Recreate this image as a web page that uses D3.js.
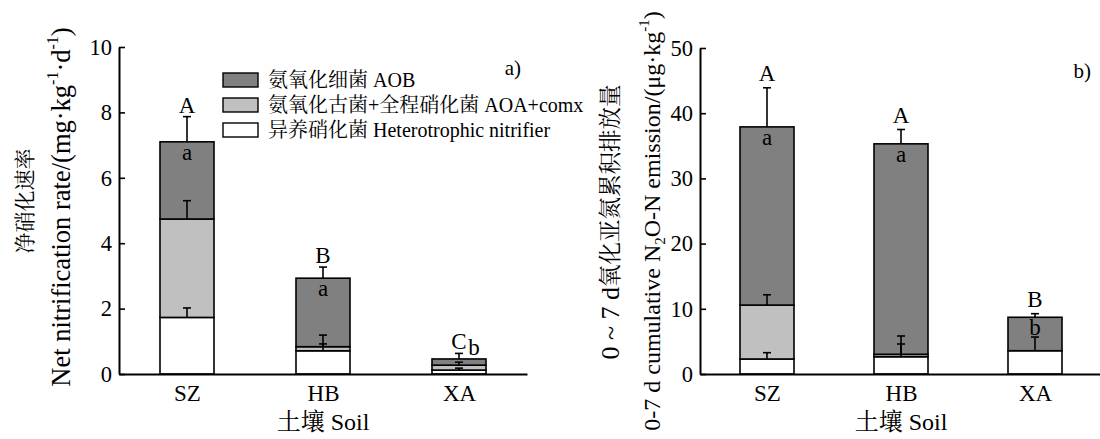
<!DOCTYPE html>
<html><head><meta charset="utf-8">
<script src="https://cdn.jsdelivr.net/npm/d3@7"></script>
<style>
body{margin:0;background:#fff;}
</style></head>
<body><svg id="c" width="1100" height="439"></svg>
<script>
// ---------- data ----------
const soils = ["SZ", "HB", "XA"];
const seriesNames = ["异养硝化菌 Heterotrophic nitrifier", "氨氧化古菌+全程硝化菌 AOA+comx", "氨氧化细菌 AOB"];
const seriesColors = ["#ffffff", "#c0c0c0", "#808080"];

// Panel a: net nitrification rate (mg·kg-1·d-1)
const aHet = [1.73, 0.71, 0.12];
const aAOA = [3.01, 0.125, 0.15];
const aAOB = [2.36, 2.095, 0.19];
const aHetErr = [0.29, 0.21, 0.06];
const aAOAErr = [0.56, 0.355, 0.09];
const aAOBErr = [0.77, 0.34, 0.17];
const aUpper = ["A", "B", "C"];
const aLower = ["a", "a", "b"];
const aTicks = [0, 2, 4, 6, 8, 10];

// Panel b: 0-7 d cumulative N2O-N emission (μg·kg-1)
const bHet = [2.3, 2.65, 3.57];
const bAOA = [8.27, 0.37, 0.0];
const bAOB = [27.33, 32.28, 5.13];
const bHetErr = [0.97, 1.95, 2.1];
const bAOAErr = [1.58, 2.81, 0];
const bAOBErr = [6.0, 2.2, 0.55];
const bUpper = ["A", "A", "B"];
const bLower = ["a", "a", "b"];
const bTicks = [0, 10, 20, 30, 40, 50];

const FONT = "'Liberation Serif', 'Noto Serif CJK SC'";
const svg = d3.select("#c");

function panel(opt) {
  const g = svg.append("g");
  const x = d3.scalePoint().domain(soils).range([opt.x0, opt.x1]).padding(0.5);
  const y = d3.scaleLinear().domain([0, opt.ymax]).range([374, opt.ytop]);
  const bw = 54;
  const series = [opt.het, opt.aoa, opt.aob];
  const errs = [opt.hetErr, opt.aoaErr, opt.aobErr];

  soils.forEach((s, i) => {
    let cum = 0;
    const tops = [];
    series.forEach((arr, k) => {
      const v = arr[i];
      g.append("rect")
        .attr("x", x(s) - bw / 2).attr("width", bw)
        .attr("y", y(cum + v)).attr("height", y(cum) - y(cum + v))
        .attr("fill", seriesColors[k]).attr("stroke", "#000").attr("stroke-width", 1.6);
      cum += v;
      tops.push(cum);
    });
    series.forEach((arr, k) => {
      const e = errs[k][i];
      if (e <= 0) return;
      const t = tops[k];
      g.append("line").attr("x1", x(s)).attr("x2", x(s))
        .attr("y1", y(t)).attr("y2", y(t + e)).attr("stroke", "#000").attr("stroke-width", 1.6);
      g.append("line").attr("x1", x(s) - 4).attr("x2", x(s) + 4)
        .attr("y1", y(t + e)).attr("y2", y(t + e)).attr("stroke", "#000").attr("stroke-width", 1.6);
    });
    const errTop = tops[2] + errs[2][i];
    g.append("text").attr("x", x(s)).attr("y", y(errTop) - opt.upOff)
      .attr("text-anchor", "middle").attr("font-size", 23).text(opt.upper[i]);
    const segH = y(tops[1]) - y(tops[2]);
    if (segH > 25) {
      g.append("text").attr("x", x(s)).attr("y", y(tops[2]) + 18)
        .attr("text-anchor", "middle").attr("font-size", 23).text(opt.lower[i]);
    } else {
      g.append("text").attr("x", x(s) + 15).attr("y", y(tops[2]) - 4)
        .attr("text-anchor", "middle").attr("font-size", 23).text(opt.lower[i]);
    }
  });

  const ya = d3.axisLeft(y).tickValues(opt.ticks).tickSizeInner(-6).tickSizeOuter(0).tickPadding(7);
  const yg = g.append("g").attr("transform", `translate(${opt.x0},0)`).call(ya);
  yg.select(".domain").attr("stroke-width", 2);
  yg.selectAll(".tick line").attr("stroke-width", 1.6);
  yg.selectAll("text").attr("font-size", 22.5);
  const xa = d3.axisBottom(x).tickSize(0).tickPadding(11);
  const xg = g.append("g").attr("transform", "translate(0,374)").call(xa);
  xg.select(".domain").attr("stroke-width", 2.2);
  xg.selectAll("text").attr("font-size", 23);

  g.append("text").attr("x", x("HB")).attr("y", 430).attr("text-anchor", "middle")
    .attr("font-size", 24).text("土壤 Soil");

  g.append("text").attr("x", opt.tagX).attr("y", opt.tagY).attr("text-anchor", "end")
    .attr("font-size", 21).text(opt.tag);
  return g;
}

panel({x0: 119, x1: 527, ymax: 10, ytop: 47, het: aHet, aoa: aAOA, aob: aAOB,
  hetErr: aHetErr, aoaErr: aAOAErr, aobErr: aAOBErr, upper: aUpper, lower: aLower,
  ticks: aTicks, upOff: 4, tag: "a)", tagX: 521, tagY: 75});
panel({x0: 700, x1: 1102, ymax: 50, ytop: 48, het: bHet, aoa: bAOA, aob: bAOB,
  hetErr: bHetErr, aoaErr: bAOAErr, aobErr: bAOBErr, upper: bUpper, lower: bLower,
  ticks: bTicks, upOff: 7, tag: "b)", tagX: 1091, tagY: 78});

const ta = svg.append("g");
ta.append("text").attr("transform", "translate(25,201) rotate(-90)").attr("text-anchor", "middle")
  .attr("dominant-baseline", "central").attr("font-size", 21).text("净硝化速率");
const t2 = ta.append("text").attr("transform", "translate(61,207) rotate(-90)").attr("text-anchor", "middle")
  .attr("dominant-baseline", "central").attr("font-size", 26.5);
t2.append("tspan").text("Net nitrification rate/(mg·kg");
t2.append("tspan").attr("baseline-shift", "super").attr("font-size", 16).text("-1");
t2.append("tspan").text("·d");
t2.append("tspan").attr("baseline-shift", "super").attr("font-size", 16).text("-1");
t2.append("tspan").text(")");

const t3 = svg.append("text").attr("transform", "translate(610,222) rotate(-90)").attr("text-anchor", "middle")
  .attr("dominant-baseline", "central").attr("font-size", 22.5);
t3.append("tspan").attr("font-size", 26).text("0 ~ 7 d");
t3.append("tspan").text("氧化亚氮累积排放量");
const t4 = svg.append("text").attr("transform", "translate(652,221) rotate(-90)").attr("text-anchor", "middle")
  .attr("dominant-baseline", "central").attr("font-size", 24);
t4.append("tspan").text("0-7 d cumulative N");
t4.append("tspan").attr("baseline-shift", "sub").attr("font-size", 15).text("2");
t4.append("tspan").text("O-N emission/(μg·kg");
t4.append("tspan").attr("baseline-shift", "super").attr("font-size", 15).text("-1");
t4.append("tspan").text(")");

const legOrder = [2, 1, 0];
const lg = svg.append("g");
legOrder.forEach((k, r) => {
  const yy = 73 + r * 25;
  lg.append("rect").attr("x", 223).attr("y", yy).attr("width", 35).attr("height", 14)
    .attr("fill", seriesColors[k]).attr("stroke", "#000").attr("stroke-width", 1.4);
  lg.append("text").attr("x", 268).attr("y", yy + 14).attr("font-size", 20).text(seriesNames[k]);
});

svg.selectAll("g").attr("font-family", null);
svg.selectAll("text").style("font-family", FONT).attr("fill", "#000");
</script></body></html>
